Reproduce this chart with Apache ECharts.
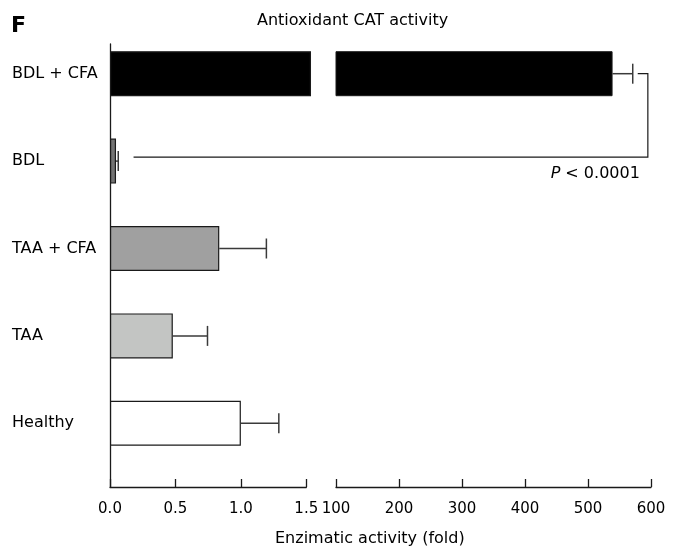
<!DOCTYPE html>
<html>
<head>
<meta charset="utf-8">
<script src="https://cdn.jsdelivr.net/npm/echarts@6/dist/echarts.min.js"></script>
<style>html,body{margin:0;padding:0;background:#fff}#c{width:681px;height:551px}</style>
</head>
<body>
<div id="c"></div>
<script>
// ---- data ----
const categories = ['BDL + CFA', 'BDL', 'TAA + CFA', 'TAA', 'Healthy'];
const meanValues = [539, 0.046, 0.835, 0.48, 1.0];
const errorUpper = [571, 0.063, 1.195, 0.745, 1.29];
const leftTicks = [0.0, 0.5, 1.0, 1.5];
const rightTicks = [100, 200, 300, 400, 500, 600];
const pText = 'P < 0.0001';

// ---- style ----
const FONT = 'DejaVu Sans';
const barColors = ['#000000', '#737373', '#a0a0a0', '#c3c5c3', '#ffffff'];
const LEFT_MAX = leftTicks[leftTicks.length - 1];
const LEFT_BREAK_END = 1.536;   // where the broken bar stops on the low panel
const RIGHT_MIN = rightTicks[0];
const RIGHT_MAX = rightTicks[rightTicks.length - 1];

const leftBarData = meanValues.map(v => Math.min(v, LEFT_BREAK_END));
const rightBarData = meanValues.map(v => v >= RIGHT_MIN ? v : '-');
const leftErr = [], rightErr = [];
meanValues.forEach((v, i) => {
  if (v >= RIGHT_MIN) rightErr.push([v, errorUpper[i], i]);
  else leftErr.push([v, errorUpper[i], i]);
});

function errRender(params, api) {
  const c = api.value(2);
  const p0 = api.coord([api.value(0), c]);
  const p1 = api.coord([api.value(1), c]);
  const st = { stroke: '#3a3a3a', lineWidth: 1.5 };
  return { type: 'group', children: [
    { type: 'line', shape: { x1: p0[0], y1: p0[1], x2: p1[0], y2: p1[1] }, style: st },
    { type: 'line', shape: { x1: p1[0], y1: p1[1] - 10, x2: p1[0], y2: p1[1] + 10 }, style: st }
  ]};
}

const axisLineStyle = { color: '#1a1a1a', width: 1.3 };
const xLabel = { fontFamily: FONT, fontSize: 15, color: '#000', margin: 15 };

const chart = echarts.init(document.getElementById('c'), null, { renderer: 'canvas' });
const option = {
  animation: false,
  backgroundColor: '#fff',
  title: [
    { text: 'F', left: 11, top: 15, padding: 0, textStyle: { fontFamily: FONT, fontWeight: 'bold', fontSize: 22, color: '#000' } },
    { text: 'Antioxidant CAT activity', left: 257, top: 13, padding: 0, textStyle: { fontFamily: FONT, fontWeight: 'normal', fontSize: 16, color: '#000' } },
    { text: 'Enzimatic activity (fold)', left: 275, top: 531, padding: 0, textStyle: { fontFamily: FONT, fontWeight: 'normal', fontSize: 16, color: '#000' } }
  ],
  grid: [
    { left: 110, top: 30, width: 196.3, height: 437 },
    { left: 336, top: 30, width: 315, height: 437 },
    { left: 110, top: 44, width: 1, height: 443 }
  ],
  xAxis: [
    { type: 'value', gridIndex: 0, min: 0, max: LEFT_MAX, interval: 0.5, offset: 20,
      axisLine: { show: true, lineStyle: axisLineStyle },
      axisTick: { show: true, inside: true, length: 8, lineStyle: axisLineStyle },
      splitLine: { show: false },
      axisLabel: Object.assign({ formatter: v => v.toFixed(1) }, xLabel) },
    { type: 'value', gridIndex: 1, min: RIGHT_MIN, max: RIGHT_MAX, interval: 100, offset: 20,
      axisLine: { show: true, lineStyle: axisLineStyle },
      axisTick: { show: true, inside: true, length: 8, lineStyle: axisLineStyle },
      splitLine: { show: false },
      axisLabel: Object.assign({ formatter: v => String(v) }, xLabel) },
    { type: 'value', gridIndex: 2, show: false }
  ],
  yAxis: [
    { type: 'category', gridIndex: 0, data: categories, inverse: true,
      axisLine: { show: false }, axisTick: { show: false },
      axisLabel: { fontFamily: FONT, fontSize: 16, color: '#000', align: 'left', margin: 98 } },
    { type: 'category', gridIndex: 1, data: categories, inverse: true, show: false },
    { type: 'value', gridIndex: 2, min: 0, max: 1,
      axisLine: { show: true, lineStyle: axisLineStyle },
      axisTick: { show: false }, axisLabel: { show: false }, splitLine: { show: false } }
  ],
  series: [
    { type: 'bar', xAxisIndex: 0, yAxisIndex: 0, data: leftBarData, barWidth: 45, clip: false,
      itemStyle: { color: p => barColors[p.dataIndex], borderColor: '#1a1a1a', borderWidth: 1.2 } },
    { type: 'bar', xAxisIndex: 1, yAxisIndex: 1, data: rightBarData, barWidth: 45, clip: true,
      itemStyle: { color: p => barColors[p.dataIndex], borderColor: '#1a1a1a', borderWidth: 1 } },
    { type: 'custom', xAxisIndex: 0, yAxisIndex: 0, data: leftErr, renderItem: errRender, clip: false,
      encode: { x: [0, 1], y: 2 }, z: 1 },
    { type: 'custom', xAxisIndex: 1, yAxisIndex: 1, data: rightErr, renderItem: errRender, clip: false,
      encode: { x: [0, 1], y: 2 }, z: 1 }
  ]
};
chart.setOption(option);

// significance bracket between BDL + CFA and BDL, placed through the axes
const BRACKET_RIGHT = 595;   // on the high-range axis
const BRACKET_LEFT = 0.18;   // on the low-range axis
const topIdx = 0, botIdx = 1;
const capPt = chart.convertToPixel({ gridIndex: 1 }, [errorUpper[topIdx], topIdx]);
const rightX = chart.convertToPixel({ gridIndex: 1 }, [BRACKET_RIGHT, topIdx])[0];
const botPt = chart.convertToPixel({ gridIndex: 0 }, [BRACKET_LEFT, botIdx]);
const by = botPt[1] - 4;
chart.setOption({
  graphic: [
    { type: 'polyline', shape: { points: [[capPt[0] + 5, capPt[1]], [rightX, capPt[1]], [rightX, by], [botPt[0], by]] },
      style: { stroke: '#1a1a1a', lineWidth: 1.2, fill: null }, z: 10 },
    { type: 'text', x: rightX - 8, y: by + 17, z: 10,
      style: { text: '{i|P} < 0.0001', align: 'right', verticalAlign: 'middle', font: '16px "DejaVu Sans"', fill: '#000',
        rich: { i: { fontStyle: 'italic', fontFamily: FONT, fontSize: 16, fill: '#000' } } } }
  ]
});
</script>
</body>
</html>
